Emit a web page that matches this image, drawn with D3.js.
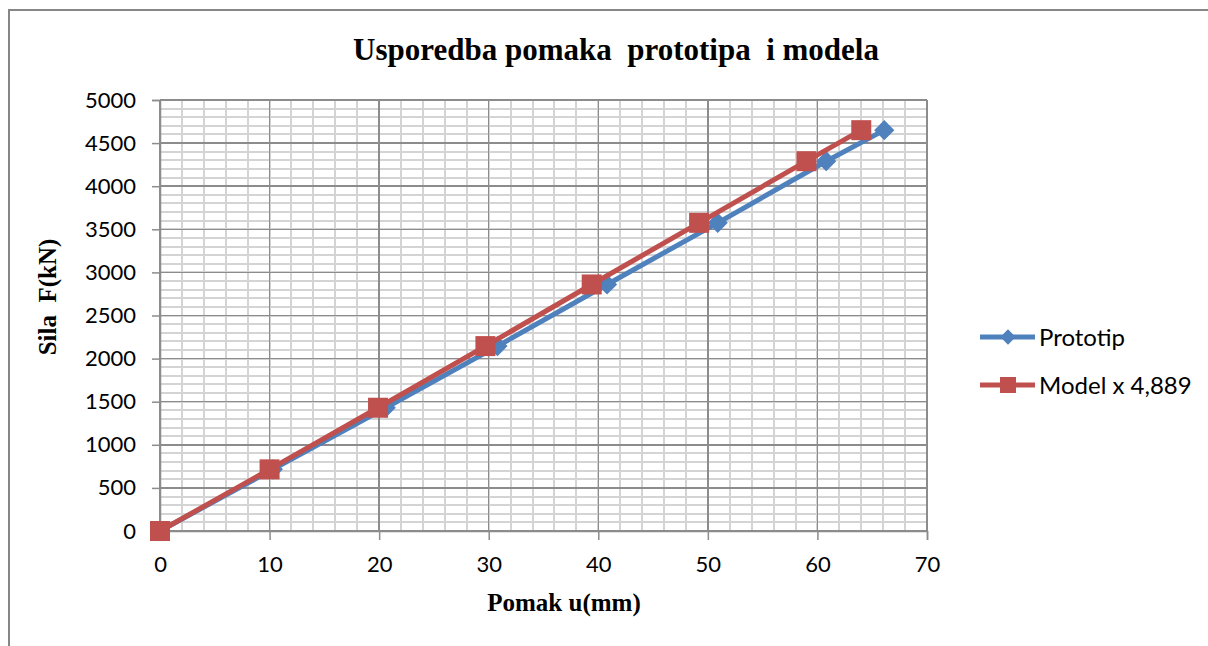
<!DOCTYPE html>
<html>
<head>
<meta charset="utf-8">
<script src="https://cdn.jsdelivr.net/npm/d3@7"></script>
<style>
  body { margin: 0; background: white; }
  text { font-family: Lato, "Open Sans", sans-serif; fill: #000; }
  .serif { font-family: "Liberation Serif", "DejaVu Serif", serif; font-weight: bold; }
</style>
</head>
<body>
<div id="chart"></div>
<script>
const sizing = { width: 1208, height: 646 }
const plot = { left: 160, right: 927, top: 100, bot: 531 }

// data
const prototipU = [0, 10.3, 20.6, 30.8, 40.8, 50.9, 60.8, 66.1]
const prototipF = [0, 715, 1430, 2145, 2860, 3575, 4290, 4650]
const modelU = [0, 10.0, 19.9, 29.7, 39.4, 49.2, 59.0, 64.0]
const modelF = [0, 715, 1430, 2145, 2860, 3575, 4290, 4650]
const xTicks = [0, 10, 20, 30, 40, 50, 60, 70]
const yTicks = [0, 500, 1000, 1500, 2000, 2500, 3000, 3500, 4000, 4500, 5000]
const seriesNames = ["Prototip", "Model x 4,889"]

const blue = "#4F81BD"
const red = "#C0504D"

const svg = d3.select("#chart").append("svg")
    .attr("width", sizing.width)
    .attr("height", sizing.height)

svg.append("rect")
    .attr("width", "100%").attr("height", "100%")
    .attr("fill", "white")

// outer chart border
svg.append("rect")
    .attr("x", 9).attr("y", 10)
    .attr("width", 1220).attr("height", 660)
    .attr("fill", "none")
    .attr("stroke", "#868686")
    .attr("stroke-width", 2)

const x = d3.scaleLinear().domain([0, 70]).range([plot.left, plot.right])
const y = d3.scaleLinear().domain([0, 5000]).range([plot.bot, plot.top])

// minor grid
const grid = svg.append("g").attr("shape-rendering", "crispEdges")
grid.selectAll(".vminor").data(d3.range(0, 71, 2))
    .join("line")
    .attr("x1", d => x(d)).attr("x2", d => x(d))
    .attr("y1", plot.top).attr("y2", plot.bot)
    .attr("stroke", "#d4d4d4").attr("stroke-width", 2)
grid.selectAll(".hminor").data(d3.range(0, 5001, 100))
    .join("line")
    .attr("x1", plot.left).attr("x2", plot.right)
    .attr("y1", d => y(d)).attr("y2", d => y(d))
    .attr("stroke", "#d4d4d4").attr("stroke-width", 2)

// major grid
grid.selectAll(".vmajor").data(xTicks)
    .enter().append("line")
    .attr("x1", d => x(d)).attr("x2", d => x(d))
    .attr("y1", plot.top).attr("y2", plot.bot)
    .attr("stroke", "#8c8c8c").attr("stroke-width", 1.5)
grid.selectAll(".hmajor").data(yTicks)
    .enter().append("line")
    .attr("x1", plot.left).attr("x2", plot.right)
    .attr("y1", d => y(d)).attr("y2", d => y(d))
    .attr("stroke", "#8c8c8c").attr("stroke-width", 1.5)

// axes
const xAxis = d3.axisBottom(x).tickValues(xTicks).tickSize(9).tickPadding(16)
const yAxis = d3.axisLeft(y).tickValues(yTicks).tickSize(8).tickPadding(16)
    .tickFormat(d3.format("d"))

const xGroup = svg.append("g")
    .attr("transform", `translate(0,${plot.bot})`)
    .call(xAxis)
const yGroup = svg.append("g")
    .attr("transform", `translate(${plot.left},0)`)
    .call(yAxis)

for (const g of [xGroup, yGroup]) {
    g.select(".domain").attr("stroke", "#8c8c8c").attr("stroke-width", 1.5)
    g.selectAll(".tick line").attr("stroke", "#8c8c8c").attr("stroke-width", 1.5)
    g.selectAll(".tick text")
        .attr("font-family", "Lato, 'Open Sans', sans-serif")
        .attr("font-size", 22)
        .attr("fill", "#000")
}

// series
const proto = prototipU.map((u, i) => ({ u: u, f: prototipF[i] }))
const model = modelU.map((u, i) => ({ u: u, f: modelF[i] }))

const line = d3.line().x(d => x(d.u)).y(d => y(d.f))
const diamond = d3.symbol().type(d3.symbolDiamond2).size(260)

svg.append("path").datum(proto)
    .attr("d", line)
    .attr("fill", "none")
    .attr("stroke", blue)
    .attr("stroke-width", 5)
    .attr("stroke-linejoin", "round")
svg.append("g").selectAll("path")
    .data(proto)
    .join("path")
    .attr("d", diamond)
    .attr("transform", d => `translate(${x(d.u)},${y(d.f)})`)
    .attr("fill", blue)

svg.append("path").datum(model)
    .attr("d", line)
    .attr("fill", "none")
    .attr("stroke", red)
    .attr("stroke-width", 5)
    .attr("stroke-linejoin", "round")
svg.append("g").selectAll("rect")
    .data(model)
    .join("rect")
    .attr("x", d => x(d.u) - 10)
    .attr("y", d => y(d.f) - 10)
    .attr("width", 20).attr("height", 20)
    .attr("fill", red)

// titles
svg.append("text")
    .attr("class", "serif")
    .attr("x", 616).attr("y", 60)
    .attr("text-anchor", "middle")
    .attr("font-size", 31)
    .style("white-space", "pre")
    .text("Usporedba pomaka  prototipa  i modela")

svg.append("text")
    .attr("class", "serif")
    .attr("x", 564).attr("y", 611)
    .attr("text-anchor", "middle")
    .attr("font-size", 25)
    .text("Pomak u(mm)")

svg.append("text")
    .attr("class", "serif")
    .attr("transform", "translate(56,297) rotate(-90)")
    .attr("text-anchor", "middle")
    .attr("font-size", 25)
    .style("white-space", "pre")
    .text("Sila  F(kN)")

// legend
const legend = svg.append("g")
const items = [
    { name: seriesNames[0], color: blue, y: 337, mark: "diamond" },
    { name: seriesNames[1], color: red, y: 385, mark: "square" }
]
items.forEach(it => {
    legend.append("line")
        .attr("x1", 980).attr("x2", 1035)
        .attr("y1", it.y).attr("y2", it.y)
        .attr("stroke", it.color).attr("stroke-width", 5)
    if (it.mark === "diamond") {
        legend.append("path")
            .attr("d", d3.symbol().type(d3.symbolDiamond2).size(150))
            .attr("transform", `translate(1008,${it.y})`)
            .attr("fill", it.color)
    } else {
        legend.append("rect")
            .attr("x", 1000).attr("y", it.y - 8)
            .attr("width", 16).attr("height", 16)
            .attr("fill", it.color)
    }
    legend.append("text")
        .attr("x", 1039).attr("y", it.y)
        .attr("dy", "0.36em")
        .attr("font-size", 24)
        .text(it.name)
})
</script>
</body>
</html>
